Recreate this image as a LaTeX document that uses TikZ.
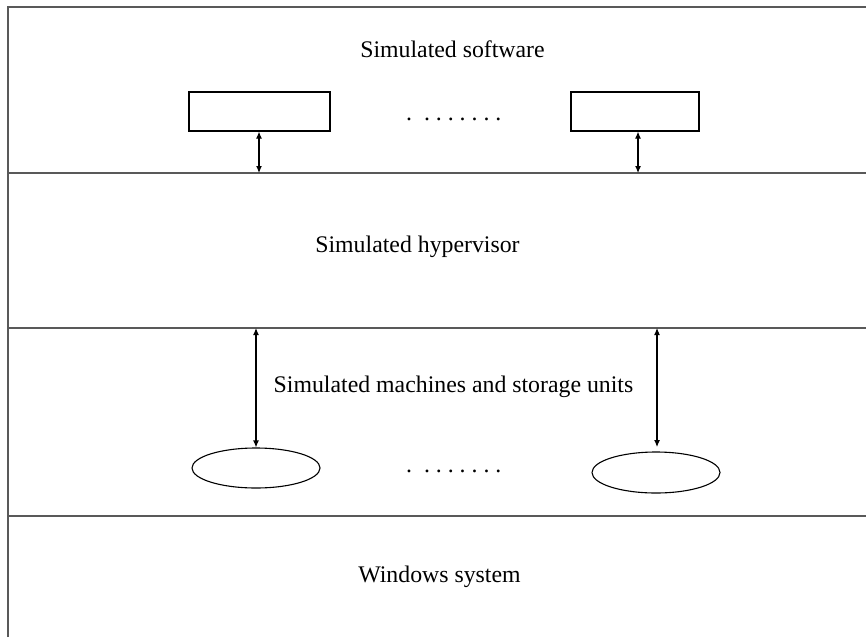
\documentclass[tikz,border=0pt]{standalone}
\usepackage{fontspec}
\setmainfont{Liberation Serif}
\usetikzlibrary{arrows.meta,shapes.geometric}
\begin{document}
\begin{tikzpicture}[x=1pt,y=-1pt,
  layerline/.style={draw=black!65,line width=1.2pt},
  swbox/.style={draw,line width=1.1pt,rectangle,inner sep=0pt,minimum width=141pt,minimum height=39pt},
  swbox2/.style={swbox,minimum width=128pt},
  unit/.style={draw,line width=1.1pt,ellipse,inner sep=0pt,minimum width=128pt,minimum height=40pt},
  lbl/.style={anchor=base,inner sep=0pt,font=\fontsize{23.8}{28}\selectfont},
  dotrow/.style={anchor=base west,inner sep=0pt,font=\fontsize{23.8}{28}\selectfont},
  link/.style={line width=1.1pt,{Latex[length=7pt,width=6pt]}-{Latex[length=7pt,width=6pt]}}
]
\useasboundingbox (0,0) rectangle (866,637);
\fill[white] (0,0) rectangle (866,637);
% frame and layer boundaries
\coordinate (fbl) at (8,637);
\coordinate (ftl) at (8,7);
\coordinate (ftr) at (866,7);
\coordinate (l1w) at (8,173);  \coordinate (l1e) at (866,173);
\coordinate (l2w) at (8,328);  \coordinate (l2e) at (866,328);
\coordinate (l3w) at (8,516);  \coordinate (l3e) at (866,516);
\draw[layerline] (fbl) -- (ftl) -- (ftr);
\draw[layerline] (l1w) -- (l1e);
\draw[layerline] (l2w) -- (l2e);
\draw[layerline] (l3w) -- (l3e);
% labels
\node[lbl] (tsw) at (452.5,57) {Simulated software};
\node[lbl] (thv) at (417.5,252) {Simulated hypervisor};
\node[lbl] (tms) at (453.5,392) {Simulated machines and storage units};
\node[lbl] (tws) at (439.5,582) {Windows system};
% software boxes
\node[swbox] (sw1) at (259.5,111.5) {};
\node[swbox2] (sw2) at (635,111.5) {};
\node[dotrow] (d1) at (406,120) {.\ \ .\ .\ .\ .\ .\ .\ .};
% units
\node[unit] (m1) at (256,468) {};
\node[unit,minimum height=41pt] (m2) at (656,472.5) {};
\node[dotrow] (d2) at (406,472) {.\ \ .\ .\ .\ .\ .\ .\ .};
% connectors
\coordinate (a1) at (259,173);
\coordinate (a2) at (638,173);
\coordinate (b1) at (256,328);
\coordinate (b2) at (657,328);
\coordinate (b2e) at (657,447);
\draw[link] (sw1.south -| a1) -- (a1);
\draw[link] (sw2.south -| a2) -- (a2);
\draw[link] (b1) -- (m1.north);
\draw[link] (b2) -- (b2e);
\end{tikzpicture}
\end{document}
